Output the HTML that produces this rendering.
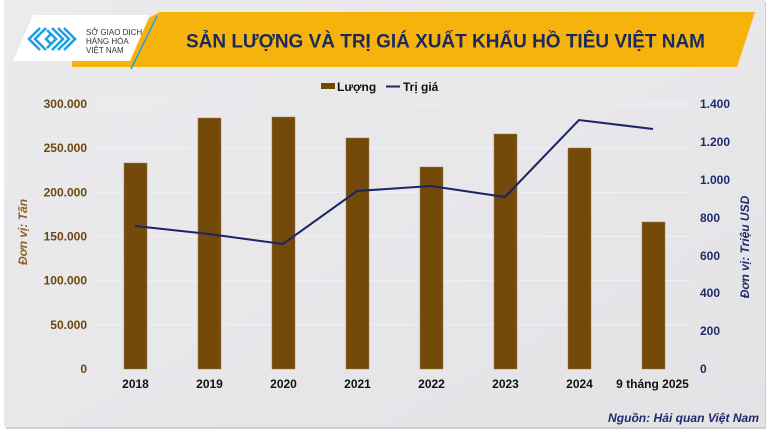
<!DOCTYPE html>
<html><head><meta charset="utf-8"><style>
html,body{margin:0;padding:0;background:#fff;}
body{width:770px;height:432px;overflow:hidden;position:relative;}
svg{position:absolute;left:0;top:0;}
text{font-family:"Liberation Sans",Arial,sans-serif;}
</style></head><body>
<svg width="770" height="432" viewBox="0 0 770 432" xmlns="http://www.w3.org/2000/svg">
<defs>
<linearGradient id="bg" x1="0" y1="0" x2="1" y2="1">
<stop offset="0" stop-color="#ebeaed"/>
<stop offset="0.5" stop-color="#e8e7ea"/>
<stop offset="1" stop-color="#e3e2e5"/>
</linearGradient>
</defs>
<!-- panel -->
<rect x="6" y="2" width="760" height="427" fill="#cfcfd2"/>
<rect x="4" y="0" width="761" height="427" fill="url(#bg)"/>

<!-- banner -->
<polygon points="160,12 755,12 737,67 72,67 72,58" fill="#f6b30c"/>
<polygon points="33,15 150,15 130,61 13,61" fill="#ffffff"/>
<line x1="157" y1="16" x2="131" y2="69" stroke="#2a9fd8" stroke-width="1.5"/>
<!-- logo icon -->
<g fill="none" stroke="#1fa0e0" stroke-width="2.6" stroke-linejoin="miter">
<polyline points="40,28 29,39 40,50"/>
<polyline points="46,28 35,39 46,50"/>
<polyline points="47,30 56,39 47,48"/>
<polyline points="52,28 63,39 52,50"/>
<polyline points="58,28 69,39 58,50"/>
<polyline points="64,28 75,39 64,50"/>
<polyline points="51,34 46,39 51,44"/>
</g>
<text x="86" y="35" font-size="8" fill="#333" font-family="Liberation Serif,serif">SỞ GIAO DỊCH</text>
<text x="86" y="44" font-size="8" fill="#333" font-family="Liberation Serif,serif">HÀNG HÓA</text>
<text x="86" y="53" font-size="8" fill="#333" font-family="Liberation Serif,serif">VIỆT NAM</text>
<text x="186" y="47.5" font-size="19.5" font-weight="bold" fill="#1b2a5c" textLength="519" lengthAdjust="spacingAndGlyphs">SẢN LƯỢNG VÀ TRỊ GIÁ XUẤT KHẨU HỒ TIÊU VIỆT NAM</text>

<!-- legend -->
<rect x="321" y="83" width="14" height="6" fill="#744a0b"/>
<text x="337" y="91" font-size="12" font-weight="bold" fill="#111">Lượng</text>
<line x1="386" y1="86.5" x2="400" y2="86.5" stroke="#1b2466" stroke-width="2"/>
<text x="403" y="91" font-size="12" font-weight="bold" fill="#111">Trị giá</text>

<!-- gridlines -->
<g stroke="#f2f2f4" stroke-width="1">
<line x1="96" y1="104" x2="690" y2="104"/>
<line x1="96" y1="148.2" x2="690" y2="148.2"/>
<line x1="96" y1="192.3" x2="690" y2="192.3"/>
<line x1="96" y1="236.5" x2="690" y2="236.5"/>
<line x1="96" y1="280.7" x2="690" y2="280.7"/>
<line x1="96" y1="324.8" x2="690" y2="324.8"/>
</g>

<!-- left axis -->
<g font-size="12" font-weight="bold" fill="#6b470f" text-anchor="end">
<text x="87" y="108">300.000</text>
<text x="87" y="152.2">250.000</text>
<text x="87" y="196.3">200.000</text>
<text x="87" y="240.5">150.000</text>
<text x="87" y="284.7">100.000</text>
<text x="87" y="328.8">50.000</text>
<text x="87" y="373">0</text>
</g>
<text transform="translate(27,232) rotate(-90)" text-anchor="middle" font-size="12" font-weight="bold" font-style="italic" fill="#8a6420">Đơn vị: Tấn</text>

<!-- right axis -->
<g font-size="12" font-weight="bold" fill="#1f2a6b" text-anchor="start">
<text x="700" y="108">1.400</text>
<text x="700" y="146">1.200</text>
<text x="700" y="184">1.000</text>
<text x="700" y="222">800</text>
<text x="700" y="260">600</text>
<text x="700" y="297">400</text>
<text x="700" y="335">200</text>
<text x="700" y="373">0</text>
</g>
<text transform="translate(749,247) rotate(-90)" text-anchor="middle" font-size="12" font-weight="bold" font-style="italic" fill="#1f2a6b">Đơn vị: Triệu USD</text>

<!-- bars -->
<g fill="#744a0b" stroke="#a07a4a" stroke-width="0.5">
<rect x="124" y="163" width="23" height="206"/>
<rect x="198" y="118" width="23" height="251"/>
<rect x="272" y="117" width="23" height="252"/>
<rect x="346" y="138" width="23" height="231"/>
<rect x="420" y="167" width="23" height="202"/>
<rect x="494" y="134" width="23" height="235"/>
<rect x="568" y="148" width="23" height="221"/>
<rect x="642" y="222" width="23" height="147"/>
</g>

<!-- line -->
<polyline points="135,226 209,234 283,244 357,191 431,186 505,197 579,120 653,129" fill="none" stroke="#1b2466" stroke-width="2" stroke-linejoin="miter"/>

<!-- x labels -->
<g font-size="12" font-weight="bold" fill="#111" text-anchor="middle">
<text x="135.5" y="388">2018</text>
<text x="209.5" y="388">2019</text>
<text x="283.5" y="388">2020</text>
<text x="357.5" y="388">2021</text>
<text x="431.5" y="388">2022</text>
<text x="505.5" y="388">2023</text>
<text x="579.5" y="388">2024</text>
<text x="652.5" y="388">9 tháng 2025</text>
</g>

<!-- source -->
<text x="759" y="422" text-anchor="end" font-size="12" font-weight="bold" font-style="italic" fill="#1f2a6b" textLength="151" lengthAdjust="spacingAndGlyphs">Nguồn: Hải quan Việt Nam</text>
</svg>
</body></html>
